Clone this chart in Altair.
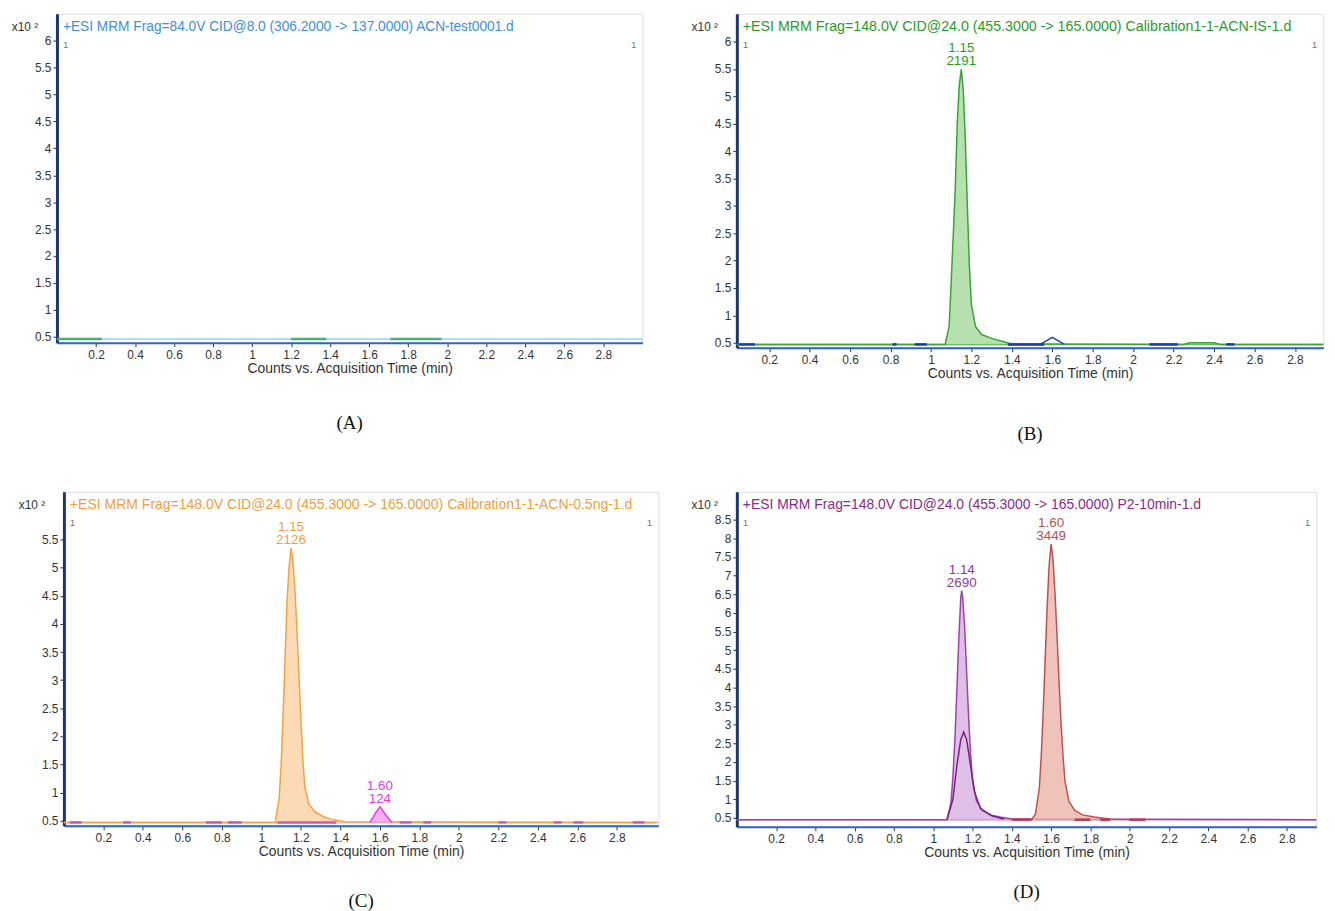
import altair as alt
import pandas as pd

FONT = "Liberation Sans"
SERIF = "Liberation Serif"
XTITLE = "Counts vs. Acquisition Time (min)"
XTICKS = [0.2, 0.4, 0.6, 0.8, 1.0, 1.2, 1.4, 1.6, 1.8, 2.0, 2.2, 2.4, 2.6, 2.8]

# ---------------- Panel A ----------------
a_title = "+ESI MRM Frag=84.0V CID@8.0 (306.2000 -> 137.0000) ACN-test0001.d"
a_yticks = [0.5, 1, 1.5, 2, 2.5, 3, 3.5, 4, 4.5, 5, 5.5, 6]
a_base_level = 0.46
a_seg_start = [0.0, 1.20, 1.71]
a_seg_end = [0.23, 1.38, 1.97]

# ---------------- Panel B ----------------
b_title = "+ESI MRM Frag=148.0V CID@24.0 (455.3000 -> 165.0000) Calibration1-1-ACN-IS-1.d"
b_yticks = [0.5, 1, 1.5, 2, 2.5, 3, 3.5, 4, 4.5, 5, 5.5, 6]
b_green_t = [0.04, 1.07, 1.09, 1.10, 1.12, 1.13, 1.14, 1.15, 1.16, 1.17, 1.18, 1.19, 1.20,
             1.22, 1.25, 1.30, 1.36, 1.40, 2.25, 2.28, 2.40, 2.43, 2.94]
b_green_v = [0.47, 0.47, 0.80, 1.60, 3.30, 4.50, 5.20, 5.50, 5.10, 4.20, 3.00, 1.90, 1.20,
             0.80, 0.65, 0.58, 0.52, 0.48, 0.47, 0.50, 0.50, 0.47, 0.47]
b_blue_t = [1.54, 1.60, 1.66]
b_blue_v = [0.47, 0.60, 0.47]
b_seg_start = [0.05, 0.81, 0.92, 1.38, 2.08, 2.46]
b_seg_end = [0.13, 0.83, 0.98, 1.56, 2.22, 2.50]
b_peak_t = [1.15]
b_peak_v = [5.50]
b_peak_label = ["1.15\n2191"]

# ---------------- Panel C ----------------
c_title = "+ESI MRM Frag=148.0V CID@24.0 (455.3000 -> 165.0000) Calibration1-1-ACN-0.5ng-1.d"
c_yticks = [0.5, 1, 1.5, 2, 2.5, 3, 3.5, 4, 4.5, 5, 5.5]
c_orange_t = [0.0, 1.07, 1.09, 1.10, 1.11, 1.12, 1.13, 1.14, 1.15, 1.16, 1.17, 1.18, 1.19,
              1.20, 1.21, 1.22, 1.24, 1.27, 1.31, 1.36, 1.42, 3.0]
c_orange_v = [0.47, 0.47, 0.90, 1.50, 2.40, 3.40, 4.40, 5.00, 5.35, 5.10, 4.60, 3.90, 3.10,
              2.30, 1.60, 1.10, 0.80, 0.66, 0.58, 0.52, 0.48, 0.47]
c_mag_t = [1.55, 1.58, 1.60, 1.62, 1.66]
c_mag_v = [0.47, 0.65, 0.75, 0.65, 0.47]
c_seg_start = [0.03, 0.30, 0.72, 0.83, 1.08, 1.70, 1.82, 2.20, 2.48, 2.58, 2.88]
c_seg_end = [0.09, 0.34, 0.80, 0.90, 1.38, 1.76, 1.86, 2.24, 2.52, 2.63, 2.94]
c_peak_t = [1.15, 1.60]
c_peak_v = [5.35, 0.75]
c_peak_label = ["1.15\n2126", "1.60\n124"]

# ---------------- Panel D ----------------
d_title = "+ESI MRM Frag=148.0V CID@24.0 (455.3000 -> 165.0000) P2-10min-1.d"
d_yticks = [0.5, 1, 1.5, 2, 2.5, 3, 3.5, 4, 4.5, 5, 5.5, 6, 6.5, 7, 7.5, 8, 8.5]
d_purple_t = [0.0, 1.07, 1.09, 1.10, 1.11, 1.12, 1.13, 1.14, 1.145, 1.15, 1.16, 1.17, 1.18,
              1.19, 1.20, 1.22, 1.25, 1.29, 1.34, 1.40, 2.95]
d_purple_v = [0.45, 0.45, 0.90, 1.60, 2.60, 3.90, 5.30, 6.40, 6.60, 6.40, 5.60, 4.40, 3.20,
              2.20, 1.50, 0.95, 0.70, 0.58, 0.52, 0.47, 0.45]
d_inner_t = [1.07, 1.10, 1.12, 1.14, 1.155, 1.17, 1.19, 1.21, 1.24, 1.30, 1.36]
d_inner_v = [0.45, 1.00, 1.90, 2.60, 2.80, 2.60, 1.90, 1.20, 0.75, 0.55, 0.47]
d_red_t = [1.50, 1.52, 1.54, 1.55, 1.56, 1.57, 1.58, 1.59, 1.60, 1.61, 1.62, 1.63, 1.64,
           1.65, 1.66, 1.67, 1.69, 1.72, 1.76, 1.82, 1.90]
d_red_v = [0.45, 0.60, 1.30, 2.20, 3.40, 4.80, 6.20, 7.30, 7.85, 7.40, 6.50, 5.40, 4.20,
           3.10, 2.20, 1.50, 0.95, 0.70, 0.58, 0.52, 0.47]
d_seg_start = [1.40, 1.72, 1.85, 2.00]
d_seg_end = [1.50, 1.80, 1.90, 2.08]
d_peak_t = [1.145, 1.60]
d_peak_v = [6.60, 7.85]
d_peak_label = ["1.14\n2690", "1.60\n3449"]


def panel(title_text, title_color, title_size, xdom, ydom, yticks, w, h, caption, cap_offset,
          base_level, base_color, series, segs, labels):
    xenc = alt.X("t:Q", scale=alt.Scale(domain=xdom, nice=False, zero=False),
                 axis=alt.Axis(values=XTICKS, format="~g", title=XTITLE, grid=False,
                               labelFont=FONT, labelFontSize=12, labelColor="#333333",
                               titleFont=FONT, titleFontSize=14, titleFontWeight="normal",
                               titleColor="#333333", tickSize=4, tickColor="#333333",
                               labelPadding=3, titlePadding=1,
                               domainColor="#2f62c8", domainWidth=2))
    yenc = alt.Y("v:Q", scale=alt.Scale(domain=ydom, nice=False, zero=False),
                 axis=alt.Axis(values=yticks, format="~g", title="x10 ²", grid=False,
                               labelFont=FONT, labelFontSize=12, labelColor="#333333",
                               titleFont=FONT, titleFontSize=12, titleFontWeight="normal",
                               titleColor="#333333", titleAngle=0, titleAlign="left",
                               titleBaseline="middle", titleX=-46, titleY=13,
                               tickSize=4, tickColor="#333333", labelPadding=2,
                               domainColor="#1d3575", domainWidth=3))
    layers = []
    base_df = pd.DataFrame({"t": [xdom[0]], "t2": [xdom[1]], "v": [base_level]})
    layers.append(alt.Chart(base_df).mark_rule(color=base_color, strokeWidth=1.5)
                  .encode(x=xenc, x2="t2:Q", y=yenc))
    for s_t, s_v, line_c, fill_c in series:
        df = pd.DataFrame({"t": s_t, "v": s_v})
        if fill_c is not None:
            layers.append(alt.Chart(df).mark_area(color=fill_c, opacity=0.85)
                          .encode(x=xenc, y=yenc, y2=alt.datum(base_level)))
        layers.append(alt.Chart(df).mark_line(color=line_c, strokeWidth=1.5)
                      .encode(x=xenc, y=yenc))
    if segs is not None:
        s_start, s_end, s_color = segs
        sdf = pd.DataFrame({"t": s_start, "t2": s_end, "v": [base_level] * len(s_start)})
        layers.append(alt.Chart(sdf).mark_rule(color=s_color, strokeWidth=2.5)
                      .encode(x=xenc, x2="t2:Q", y=yenc))
    if labels is not None:
        l_t, l_v, l_txt, l_col = labels
        ldf = pd.DataFrame({"t": l_t, "v": l_v, "lab": l_txt, "c": l_col})
        layers.append(alt.Chart(ldf).mark_text(font=FONT, fontSize=13.5, lineBreak="\n",
                                               baseline="bottom", dy=-14, lineHeight=13)
                      .encode(x=xenc, y=yenc, text="lab:N",
                              color=alt.Color("c:N", scale=None)))
    tdf = pd.DataFrame({"lab": [title_text]})
    layers.append(alt.Chart(tdf).mark_text(font=FONT, fontSize=title_size, align="left",
                                           baseline="middle", color=title_color)
                  .encode(text="lab:N", x=alt.value(6), y=alt.value(13)))
    odf = pd.DataFrame({"lab": ["1"]})
    layers.append(alt.Chart(odf).mark_text(font=FONT, fontSize=10, align="left",
                                           baseline="middle", color="#777777")
                  .encode(text="lab:N", x=alt.value(6), y=alt.value(31)))
    layers.append(alt.Chart(odf).mark_text(font=FONT, fontSize=10, align="right",
                                           baseline="middle", color="#777777")
                  .encode(text="lab:N", x=alt.value(w - 6), y=alt.value(31)))
    return alt.layer(*layers).properties(
        width=w, height=h,
        title=alt.TitleParams(caption, orient="bottom", anchor="middle", frame="group",
                              font=SERIF, fontSize=19, fontWeight="normal",
                              color="#111111", offset=cap_offset))


pA = panel(a_title, "#3d8fe0", 13.8, [0, 3.0], [0.39, 6.5], a_yticks, 589, 331, "(A)", 39,
           a_base_level, "#8fd3f2",
           [], (a_seg_start, a_seg_end, "#45b070"), None)
pB = panel(b_title, "#2a9a2a", 14.3, [0.04, 2.94], [0.41, 6.51], b_yticks, 590, 336, "(B)", 45,
           0.47, "#3aa33a",
           [(b_green_t, b_green_v, "#3aa33a", "#a9dba0"),
            (b_blue_t, b_blue_v, "#2040c0", None)],
           (b_seg_start, b_seg_end, "#1c3aa8"),
           (b_peak_t, b_peak_v, b_peak_label, ["#2a9a2a"]))
pC = panel(c_title, "#f0a040", 14.1, [0, 3.01], [0.41, 6.35], c_yticks, 598, 336, "(C)", 34,
           0.47, "#f2a8c4",
           [(c_orange_t, c_orange_v, "#f4a340", "#fad3a8"),
            (c_mag_t, c_mag_v, "#e040e0", "#f2a0ee")],
           (c_seg_start, c_seg_end, "#e050b0"),
           (c_peak_t, c_peak_v, c_peak_label, ["#f0a040", "#e040e0"]))
pD = panel(d_title, "#8a2a8a", 14.0, [0, 2.95], [0.26, 9.25], d_yticks, 583, 337, "(D)", 24,
           0.45, "#d080b0",
           [(d_purple_t, d_purple_v, "#a040b0", "#d8b4e2"),
            (d_inner_t, d_inner_v, "#7a2080", None),
            (d_red_t, d_red_v, "#c05050", "#edb9ae")],
           (d_seg_start, d_seg_end, "#b04050"),
           (d_peak_t, d_peak_v, d_peak_label, ["#8a3a9a", "#b5534a"]))

row1 = alt.hconcat(pA, pB, spacing=46)
row2 = alt.hconcat(pC, pD, spacing=30)
chart = alt.vconcat(row1, row2, spacing=46, center=True).properties(
    padding={"left": 2, "top": 2, "right": 0, "bottom": 0}
).configure_view(stroke="#3d78d8", strokeWidth=2).configure(background="white")

chart.save("out.html", embed_options={"renderer": "svg", "actions": False})
